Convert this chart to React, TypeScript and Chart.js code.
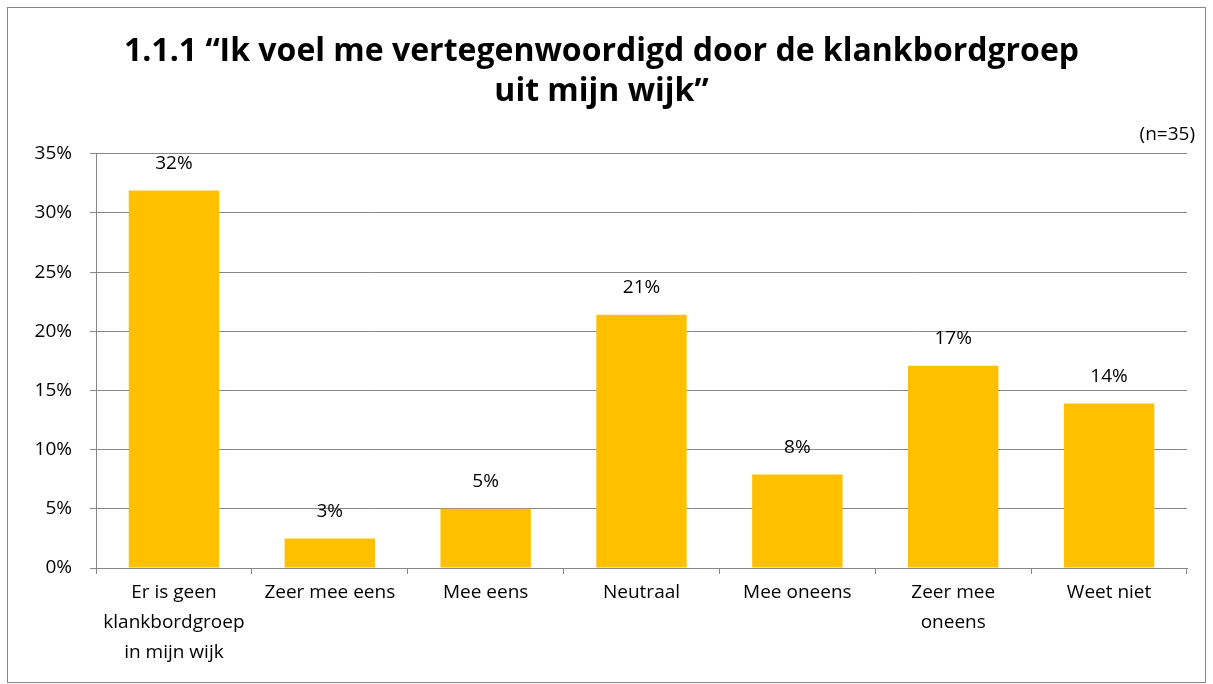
import React, { useEffect, useRef } from "react";
import { Chart, registerables } from "chart.js";

Chart.register(...registerables);

const categories: string[][] = [
  ["Er is geen", "klankbordgroep", "in mijn wijk"],
  ["Zeer mee eens"],
  ["Mee eens"],
  ["Neutraal"],
  ["Mee oneens"],
  ["Zeer mee", "oneens"],
  ["Weet niet"],
];
const values: number[] = [31.9, 2.5, 5.0, 21.4, 7.9, 17.1, 13.9];
const valueLabels: string[] = ["32%", "3%", "5%", "21%", "8%", "17%", "14%"];
const titleLines: string[] = [
  "1.1.1 \u201cIk voel me vertegenwoordigd door de klankbordgroep",
  "uit mijn wijk\u201d",
];
const subtitleText = "(n=35)";

const FONT = "'Open Sans', Lato, sans-serif";

const labelPlugin = {
  id: "barLabels",
  afterDatasetsDraw(chart: any) {
    const ctx = chart.ctx;
    const meta = chart.getDatasetMeta(0);
    ctx.save();
    ctx.font = `19px ${FONT}`;
    ctx.fillStyle = "#000";
    ctx.textAlign = "center";
    ctx.textBaseline = "middle";
    meta.data.forEach((bar: any, i: number) => {
      ctx.fillText(valueLabels[i], bar.x, bar.y - 27);
    });
    ctx.restore();
  },
};

export default function App() {
  const ref = useRef<HTMLCanvasElement | null>(null);
  useEffect(() => {
    if (!ref.current) return;
    const chart = new Chart(ref.current, {
      type: "bar",
      data: {
        labels: categories,
        datasets: [
          {
            data: values,
            backgroundColor: "#FFC000",
            borderWidth: 0,
            categoryPercentage: 1,
            barPercentage: 0.58,
          },
        ],
      },
      options: {
        animation: false,
        responsive: false,
        maintainAspectRatio: false,
        layout: { padding: { left: 0, right: 10, top: 0, bottom: 0 } },
        plugins: {
          legend: { display: false },
          tooltip: { enabled: false },
          title: {
            display: true,
            text: titleLines,
            color: "#000",
            font: { family: FONT, size: 32, weight: "bold", lineHeight: 1.25 },
            padding: { top: 24, bottom: 11 },
          },
          subtitle: {
            display: true,
            text: subtitleText,
            align: "end",
            color: "#000",
            font: { family: FONT, size: 19, lineHeight: 1.2 },
            padding: { top: 0, bottom: 8 },
          },
        },
        scales: {
          x: {
            grid: {
              display: true,
              drawOnChartArea: false,
              drawTicks: true,
              tickLength: 6,
              color: "#878787",
              offset: true,
            },
            border: { display: true, color: "#878787", width: 1 },
            ticks: {
              color: "#000",
              font: { family: FONT, size: 19, lineHeight: 1.58 },
              padding: 4,
              maxRotation: 0,
              autoSkip: false,
            },
            afterFit: (s: any) => {
              s.height = 114;
            },
          },
          y: {
            min: 0,
            max: 35,
            grid: {
              color: "#878787",
              drawTicks: true,
              tickLength: 6,
            },
            border: { display: true, color: "#878787", width: 1 },
            ticks: {
              stepSize: 5,
              color: "#000",
              font: { family: FONT, size: 19 },
              padding: 18,
              callback: (v: any) => `${v}%`,
            },
            afterFit: (s: any) => {
              s.width = 88;
            },
          },
          spacer: {
            type: "linear",
            position: "right",
            display: true,
            grid: { display: false },
            border: { display: false },
            ticks: { display: false },
            afterFit: (s: any) => {
              s.width = 8;
            },
          },
        },
      },
      plugins: [labelPlugin],
    });
    return () => chart.destroy();
  }, []);
  return (
    <div
      style={{
        position: "absolute",
        left: 7,
        top: 7,
        width: 1199,
        height: 676,
        border: "1px solid #868686",
        boxSizing: "border-box",
        background: "#fff",
      }}
    >
      <canvas ref={ref} width={1197} height={674} style={{ display: "block" }} />
    </div>
  );
}
